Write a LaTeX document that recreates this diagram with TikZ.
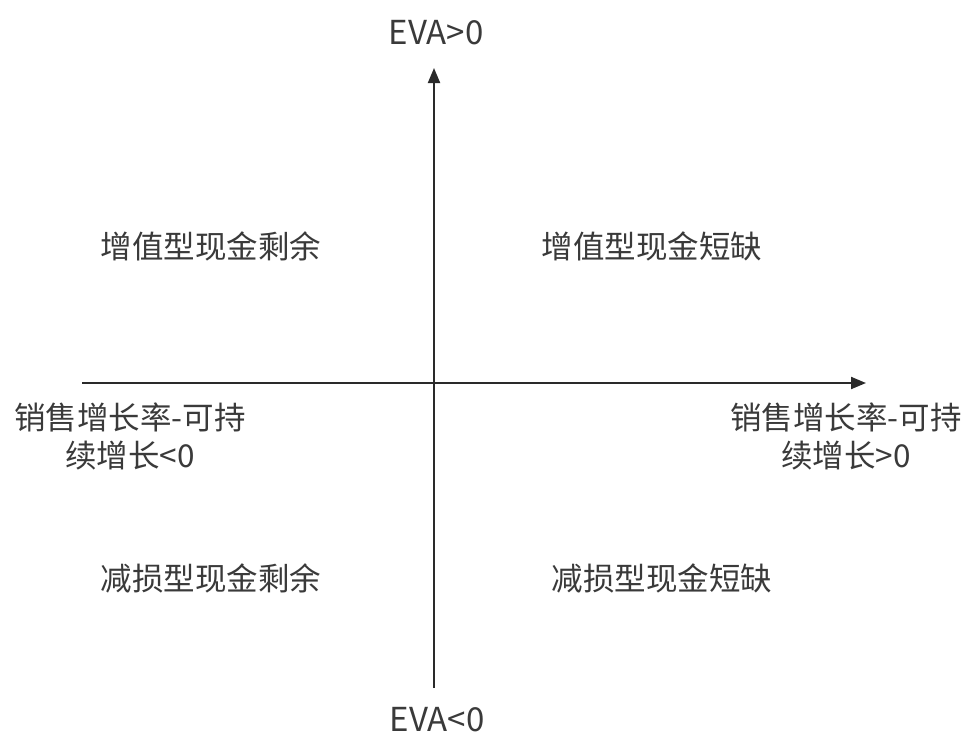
\documentclass[tikz,border=0pt]{standalone}
\usepackage{fontspec}
\setmainfont{Noto Sans CJK SC}
\usetikzlibrary{arrows.meta}
\definecolor{txt}{HTML}{3A3A3A}
\definecolor{axis}{HTML}{2A2A2A}
\begin{document}
\begin{tikzpicture}[x=1pt,y=-1pt,
  lbl/.style={font=\fontsize{31.5}{38}\selectfont, text=txt, inner sep=0pt, align=center},
  eva/.style={font=\fontsize{33}{38}\selectfont, text=txt, inner sep=0pt},
  axisline/.style={draw=axis, line width=2pt, -{Triangle[length=15pt,width=12pt]}}]
\useasboundingbox (0,0) rectangle (966,740);
\coordinate (bot) at (434,688);
\coordinate (top) at (434,68);
\coordinate (left) at (82,383);
\coordinate (right) at (866,383);
\draw[axisline] (bot) -- (top);
\draw[axisline] (left) -- (right);
\node[eva] (ytop) at (436,33) {EVA>0};
\node[eva] (ybot) at (437,720) {EVA<0};
\node[lbl] (q1) at (211,246) {增值型现金剩余};
\node[lbl] (q2) at (652,246) {增值型现金短缺};
\node[lbl] (q3) at (211,578) {减损型现金剩余};
\node[lbl] (q4) at (662,578) {减损型现金短缺};
\node[lbl] (xl) at (130,436) {销售增长率-可持\\续增长<0};
\node[lbl] (xr) at (846,436) {销售增长率-可持\\续增长>0};
\end{tikzpicture}
\end{document}
